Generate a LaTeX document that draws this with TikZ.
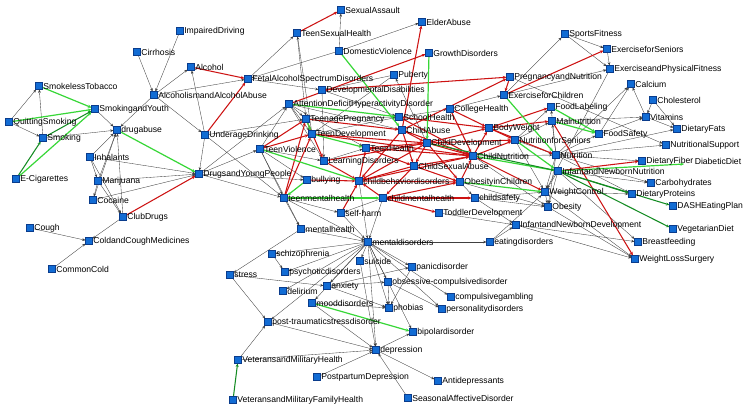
\documentclass[tikz,border=0pt]{standalone}
\usepackage{fontspec}
\setmainfont{Liberation Sans}
\usetikzlibrary{arrows.meta}
\definecolor{nblue}{RGB}{18,108,212}
\definecolor{nbord}{RGB}{10,60,140}
\definecolor{redE}{RGB}{205,18,18}
\definecolor{grE}{RGB}{55,215,55}
\definecolor{dgE}{RGB}{20,140,35}
\pgfdeclarelayer{bg}
\pgfsetlayers{bg,main}
\tikzset{
  sq/.style={rectangle, fill=nblue, draw=nbord, line width=0.3pt, minimum size=6.8pt, inner sep=0pt},
  lab/.style={font=\fontsize{8.6}{9}\selectfont, inner sep=0.6pt, text=black},
  bk/.style={draw=black!75, line width=0.35pt, -{Stealth[length=3.2pt,width=2.6pt]}},
  rd/.style={draw=redE, line width=1.05pt, -{Stealth[length=3.6pt,width=3.2pt]}},
  gr/.style={draw=grE, line width=1.2pt, -{Stealth[length=3.6pt,width=3.2pt]}},
  dg/.style={draw=dgE, line width=1.05pt, -{Stealth[length=3.4pt,width=3pt]}}
}
\newcommand{\nd}[4]{\node[sq,label={[lab]east:#4}] (#1) at (#2,#3) {};}
\begin{document}
\begin{tikzpicture}[x=1pt,y=-1pt]
\useasboundingbox (0,0) rectangle (750,410);
% nodes
\nd{impd}{180}{31}{ImpairedDriving}
\nd{cirr}{137}{52}{Cirrhosis}
\nd{alc}{191}{67}{Alcohol}
\nd{fasd}{248}{79}{FetalAlcoholSpectrumDisorders}
\nd{smkl}{39}{86}{SmokelessTobacco}
\nd{alcab}{154}{95}{AlcoholismandAlcoholAbuse}
\nd{smky}{95}{109}{SmokingandYouth}
\nd{quit}{9}{122}{QuittingSmoking}
\nd{drab}{117}{130}{drugabuse}
\nd{undr}{205}{135}{UnderageDrinking}
\nd{smk}{43}{138}{Smoking}
\nd{inh}{90}{157}{Inhalants}
\nd{ecig}{16}{179}{E-Cigarettes}
\nd{mari}{98}{181}{Marijuana}
\nd{coc}{93}{200}{Cocaine}
\nd{club}{123}{217}{ClubDrugs}
\nd{cough}{30}{228}{Cough}
\nd{ccm}{89}{241}{ColdandCoughMedicines}
\nd{cold}{52}{269}{CommonCold}
\nd{dyp}{199}{174}{DrugsandYoungPeople}
\nd{sexa}{341}{10}{SexualAssault}
\nd{elder}{422}{22}{ElderAbuse}
\nd{tsh}{297}{33}{TeenSexualHealth}
\nd{domv}{339}{51}{DomesticViolence}
\nd{grow}{429}{53}{GrowthDisorders}
\nd{pub}{394}{75}{Puberty}
\nd{devd}{322}{90}{DevelopmentalDisabilities}
\nd{adhd}{289}{104}{AttentionDeficitHyperactivityDisorder}
\nd{coll}{450}{109}{CollegeHealth}
\nd{tpreg}{306}{119}{TeenagePregnancy}
\nd{schh}{399}{117}{SchoolHealth}
\nd{chab}{402}{130}{ChildAbuse}
\nd{tdev}{312}{134}{TeenDevelopment}
\nd{bodyw}{489}{128}{BodyWeight}
\nd{sport}{565}{34}{SportsFitness}
\nd{exsen}{607}{49}{ExerciseforSeniors}
\nd{expf}{610}{69}{ExerciseandPhysicalFitness}
\nd{pregn}{510}{77}{PregnancyandNutrition}
\nd{calc}{631}{84}{Calcium}
\nd{exch}{504}{95}{ExerciseforChildren}
\nd{chol}{653}{100}{Cholesterol}
\nd{flab}{551}{107}{FoodLabeling}
\nd{maln}{552}{121}{Malnutrition}
\nd{vit}{646}{117}{Vitamins}
\nd{dfat}{677}{129}{DietaryFats}
\nd{fsaf}{599}{134}{FoodSafety}
\nd{nsen}{515}{140}{NutritionforSeniors}
\nd{nutr}{556}{155}{Nutrition}
\nd{nsup}{666}{145}{NutritionalSupport}
\nd{dfib}{642}{161}{DietaryFiber}
\node[lab,anchor=west] (diab) at (694,161) {DiabeticDiet};
\coordinate (diabc) at (684,164);
\nd{inn}{558}{171}{InfantandNewbornNutrition}
\nd{carb}{651}{183}{Carbohydrates}
\nd{wctl}{545}{192}{WeightControl}
\nd{dprot}{632}{194}{DietaryProteins}
\nd{obes}{548}{207}{Obesity}
\nd{dash}{673}{206}{DASHEatingPlan}
\nd{indev}{516}{225}{InfantandNewbornDevelopment}
\nd{veg}{673}{229}{VegetarianDiet}
\nd{bfeed}{638}{242}{Breastfeeding}
\nd{wls}{635}{259}{WeightLossSurgery}
\nd{chdev}{427}{143}{ChildDevelopment}
\nd{chnut}{473}{156}{ChildNutrition}
\nd{chsa}{414}{166}{ChildSexualAbuse}
\nd{obch}{460}{182}{ObesityinChildren}
\nd{cmh}{383}{198}{childmentalhealth}
\nd{csaf}{475}{198}{childsafety}
\nd{thlth}{366}{148}{TeenHealth}
\nd{tviol}{260}{149}{TeenViolence}
\nd{ldis}{324}{161}{LearningDisorders}
\nd{bully}{307}{180}{bullying}
\nd{cbd}{359}{181}{childbehaviordisorders}
\nd{tmh}{284}{198}{teenmentalhealth}
\nd{selfh}{341}{213}{self-harm}
\nd{todd}{439}{213}{ToddlerDevelopment}
\nd{mh}{301}{229}{mentalhealth}
\nd{md}{368}{242}{mentaldisorders}
\nd{eat}{490}{242}{eatingdisorders}
\nd{schiz}{272}{254}{schizophrenia}
\nd{suic}{360}{261}{suicide}
\nd{panic}{412}{267}{panicdisorder}
\nd{psych}{285}{272}{psychoticdisorders}
\nd{stress}{230}{275}{stress}
\nd{ocd}{388}{282}{obsessive-compulsivedisorder}
\nd{anx}{327}{286}{anxiety}
\nd{delir}{283}{291}{delirium}
\nd{gamb}{451}{297}{compulsivegambling}
\nd{mood}{312}{303}{mooddisorders}
\nd{phob}{389}{308}{phobias}
\nd{pers}{442}{309}{personalitydisorders}
\nd{ptsd}{268}{322}{post-traumaticstressdisorder}
\nd{bip}{413}{332}{bipolardisorder}
\nd{dep}{376}{350}{depression}
\nd{vet}{238}{360}{VeteransandMilitaryHealth}
\nd{ppd}{317}{377}{PostpartumDepression}
\nd{antid}{438}{381}{Antidepressants}
\nd{sad}{408}{398}{SeasonalAffectiveDisorder}
\nd{vetf}{233}{400}{VeteransandMilitaryFamilyHealth}
% edges
\begin{pgfonlayer}{bg}
\fill[white] (0,0) rectangle (750,410);
\foreach \a/\b in {quit/smkl, quit/smk, smk/smkl, smky/drab, smk/drab, alcab/drab, inh/drab, mari/drab, coc/drab, club/drab,
  inh/mari, mari/coc, inh/club, mari/club, inh/dyp, mari/dyp, coc/dyp, club/ccm, cough/ccm, cold/ccm,
  cirr/alcab, impd/alcab, alcab/alc, alcab/fasd, undr/alc, alcab/undr, undr/dyp, undr/tpreg, undr/tmh, dyp/tmh, dyp/bully, dyp/tviol, dyp/adhd,
  domv/sexa, domv/elder, tsh/tpreg, tdev/tsh, fasd/tsh, domv/fasd, fasd/devd, pub/tdev, pub/devd, chdev/pub, devd/schh, devd/ldis,
  adhd/ldis, adhd/tpreg, tviol/adhd, adhd/chab, adhd/thlth, adhd/tdev, tpreg/tdev, tviol/bully, tviol/tmh, tviol/ldis, ldis/thlth, tpreg/schh, tdev/schh,
  tmh/selfh, tmh/mh, tmh/md, cmh/selfh, cmh/md, selfh/md, mh/md, mh/stress, cbd/md, tviol/mh, todd/indev, eat/indev, eat/wctl, md/eat, csaf/indev,
  md/schiz, md/psych, md/suic, md/panic, md/ocd, md/anx, md/delir, md/gamb, md/mood, md/phob, md/pers, md/ptsd, md/bip, md/dep,
  schiz/psych, stress/anx, stress/ptsd, vet/ptsd, vet/dep, mood/dep, mood/phob, anx/phob, anx/panic, anx/ocd, ocd/phob, ocd/pers, panic/phob,
  dep/bip, ppd/dep, sad/dep, dep/antid, suic/dep, ptsd/dep, schh/coll,
  exch/sport, sport/exsen, sport/expf, exsen/expf, exch/expf, expf/wctl, vit/calc, fsaf/calc, chol/vit, chol/dfat, vit/dfat, maln/vit, fsaf/vit,
  nutr/calc, nutr/fsaf, nutr/nsup, nutr/dfib, nutr/carb, nutr/dprot, nutr/dfat, nutr/maln, nutr/flab, nsen/maln, nsen/flab, nsen/nutr, chnut/nutr,
  nutr/wctl, nutr/obes, inn/wctl, inn/obes, inn/carb, wctl/obes, wctl/dprot, obch/obes, chnut/obes, indev/wls, obes/wls, wctl/wls, indev/bfeed, inn/bfeed,
  csaf/wctl, nsen/wctl, coll/exch, obch/csaf, csaf/obes, pregn/nsup}
  \draw[bk] (\a) -- (\b);
\foreach \a/\b in {tsh/sexa, chab/elder, alc/fasd, undr/fasd, club/dyp, adhd/grow, devd/pregn, exch/exsen, tviol/tdev, tviol/tpreg, tmh/tdev, tmh/tpreg,
  tpreg/chab, tdev/chdev, thlth/chdev, thlth/chsa, ldis/chdev, ldis/cbd, tdev/chnut, chab/chdev, chab/chsa, chab/chnut, chab/cbd,
  chdev/chnut, chdev/chsa, chdev/cbd, chdev/obch, chdev/bodyw, chsa/chnut, chsa/cbd, chsa/cmh, cbd/obch, cmh/cbd, cbd/chnut,
  cmh/csaf, cmh/obch, cmh/todd, obch/chnut, coll/chnut, coll/bodyw, schh/bodyw, schh/chnut, chnut/nsen, bodyw/nsen, bodyw/nutr,
  bodyw/flab, bodyw/maln, chnut/wctl, chnut/bodyw, maln/wls, inn/dfib, bully/cbd, thlth/chnut, chdev/nsen, tpreg/ldis, selfh/cbd, cbd/thlth, chsa/obch, pregn/exch, chab/pregn}
  \draw[rd] (\a) -- (\b);
\foreach \a/\b in {smkl/smky, quit/smky, ecig/smky, drab/dyp, adhd/schh, tpreg/tdev, tdev/thlth, tviol/cbd, bully/tmh, tmh/cmh,
  exch/nutr, flab/fsaf, maln/fsaf, obch/wctl, mood/bip, chnut/inn, domv/chab, grow/chdev, nsen/inn}
  \draw[gr] (\a) -- (\b);
\foreach \a/\b in {ecig/smk, smk/smky, chdev/inn, inn/dprot, inn/veg, inn/dash, vetf/vet}
  \draw[dg] (\a) -- (\b);
\draw[gr] (inn) -- (diabc);
\end{pgfonlayer}
\end{tikzpicture}
\end{document}
